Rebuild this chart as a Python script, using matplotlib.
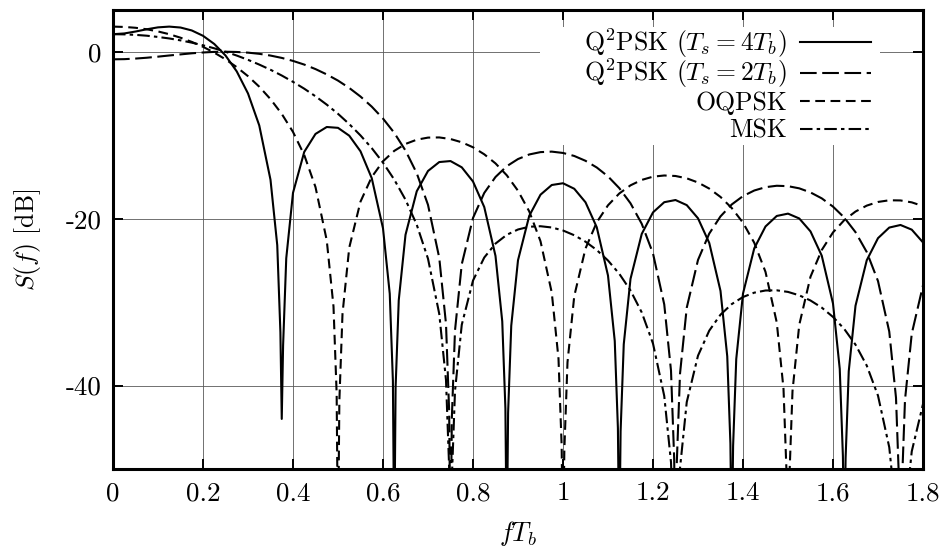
import numpy as np
import matplotlib
matplotlib.use('Agg')
import matplotlib.pyplot as plt
from matplotlib.patches import Rectangle

# power spectra in dB on a 0.025 grid of f*Tb (0 .. 1.8)
f_grid = np.linspace(0.0, 1.8, 73)

q4_db = [2.10, 2.19, 2.42, 2.69, 2.92, 3.01, 2.90, 2.55, 1.91, 0.93,
         -0.45, -2.36, -5.00, -8.83, -15.34, -44.0, -16.91, -12.00, -9.85, -9.02,
         -9.12, -10.06, -11.93, -15.15, -21.16, -60.0, -21.94, -16.72, -14.29, -13.22,
         -13.10, -13.85, -15.55, -18.61, -24.47, -60.0, -24.99, -19.66, -17.13, -15.97,
         -15.76, -16.42, -18.04, -21.03, -26.82, -60.0, -27.22, -21.83, -19.25, -18.03,
         -17.77, -18.38, -19.96, -22.91, -28.66, -60.0, -28.98, -23.56, -20.94, -19.68,
         -19.40, -19.98, -21.53, -24.44, -30.17, -60.0, -30.44, -24.99, -22.34, -21.07,
         -20.76, -21.32, -22.85]

q2_db = [-0.91, -0.89, -0.82, -0.72, -0.59, -0.45, -0.32, -0.19, -0.09, -0.02,
         0.00, -0.03, -0.11, -0.25, -0.46, -0.74, -1.10, -1.54, -2.08, -2.72,
         -3.46, -4.34, -5.37, -6.58, -8.01, -9.72, -11.84, -14.56, -18.35, -24.69,
         -60.0, -25.47, -19.92, -16.92, -15.01, -13.72, -12.86, -12.31, -12.03, -11.97,
         -12.13, -12.49, -13.07, -13.87, -14.94, -16.34, -18.16, -20.62, -24.17, -30.28,
         -60.0, -30.67, -24.95, -21.79, -19.73, -18.30, -17.30, -16.63, -16.23, -16.06,
         -16.11, -16.37, -16.86, -17.57, -18.56, -19.87, -21.62, -24.00, -27.48, -33.53,
         -60.0, -33.79, -28.00]

oqpsk_db = [3.01, 2.97, 2.87, 2.69, 2.43, 2.10, 1.68, 1.18, 0.59, -0.11,
            -0.91, -1.85, -2.93, -4.19, -5.68, -7.45, -9.61, -12.38, -16.22, -22.60,
            -60.0, -23.47, -17.96, -15.01, -13.13, -11.88, -11.05, -10.54, -10.29, -10.27,
            -10.46, -10.85, -11.45, -12.29, -13.38, -14.80, -16.66, -19.14, -22.71, -28.85,
            -60.0, -29.28, -23.58, -20.44, -18.40, -16.99, -16.01, -15.36, -14.97, -14.83,
            -14.89, -15.17, -15.67, -16.40, -17.40, -18.73, -20.49, -22.89, -26.38, -32.44,
            -60.0, -32.73, -26.96, -23.76, -21.65, -20.18, -19.15, -18.44, -18.00, -17.80,
            -17.82, -18.05, -18.50]

msk_db = [2.10, 2.08, 2.02, 1.92, 1.77, 1.59, 1.36, 1.09, 0.77, 0.41,
          0.00, -0.46, -0.97, -1.54, -2.16, -2.85, -3.61, -4.43, -5.34, -6.34,
          -7.44, -8.67, -10.03, -11.55, -13.29, -15.32, -17.73, -20.73, -24.80, -31.41,
          -60.0, -32.72, -27.42, -24.66, -22.99, -21.94, -21.30, -20.97, -20.91, -21.06,
          -21.42, -21.99, -22.76, -23.76, -25.02, -26.60, -28.61, -31.24, -34.97, -41.25,
          -60.0, -41.98, -36.42, -33.42, -31.51, -30.24, -29.39, -28.87, -28.61, -28.59,
          -28.78, -29.19, -29.81, -30.66, -31.78, -33.22, -35.10, -37.61, -41.21, -47.39,
          -60.0, -47.89, -42.23]

# extra readings close to the spectral nulls
q4_notch_f = [0.365, 0.372, 0.378, 0.385, 0.615, 0.622, 0.628, 0.635,
              0.865, 0.872, 0.878, 0.885, 1.115, 1.122, 1.128, 1.135,
              1.365, 1.372, 1.378, 1.385, 1.615, 1.622, 1.628, 1.635]
q4_notch_db = [-23.18, -33.61, -35.18, -24.75, -29.00, -39.43, -40.21, -29.78,
               -32.31, -42.74, -43.26, -32.83, -34.66, -45.09, -45.49, -35.06,
               -36.50, -46.93, -47.25, -36.82, -38.01, -48.44, -48.71, -38.28]

q2_notch_f = [0.74, 0.747, 0.753, 0.76, 1.24, 1.247, 1.253, 1.26, 1.74, 1.747, 1.753, 1.76]
q2_notch_db = [-32.62, -43.07, -43.85, -33.40, -38.21, -48.66, -49.05, -38.60,
               -41.46, -51.91, -52.17, -41.72]

oqpsk_notch_f = [0.49, 0.497, 0.503, 0.51, 0.99, 0.997, 1.003, 1.01, 1.49, 1.497, 1.503, 1.51]
oqpsk_notch_db = [-30.53, -40.98, -41.85, -31.40, -36.78, -47.23, -47.66, -37.21,
                  -40.37, -50.82, -51.11, -40.66]

msk_notch_f = [0.74, 0.747, 0.753, 0.76, 1.24, 1.247, 1.253, 1.26, 1.74, 1.76]
msk_notch_db = [-39.34, -49.79, -51.10, -40.65, -49.18, -59.6, -60.4, -49.91, -55.3, -55.8]

labels = [r'Q$^2$PSK $(T_s = 4T_b)$', r'Q$^2$PSK $(T_s = 2T_b)$', 'OQPSK', 'MSK']

x_ticks = [0, 0.2, 0.4, 0.6, 0.8, 1.0, 1.2, 1.4, 1.6, 1.8]
x_ticklabels = ['0', '0.2', '0.4', '0.6', '0.8', '1', '1.2', '1.4', '1.6', '1.8']
y_ticks = [0, -20, -40]
y_ticklabels = ['0', '-20', '-40']


def merge(fg, db, nf, ndb):
    f = np.concatenate([fg, nf])
    s = np.concatenate([db, ndb])
    order = np.argsort(f)
    return f[order], s[order]


plt.rcParams['font.family'] = 'serif'
plt.rcParams['font.serif'] = ['cmr10']
plt.rcParams['mathtext.fontset'] = 'cm'
plt.rcParams['axes.unicode_minus'] = False
plt.rcParams['lines.scale_dashes'] = False

fig = plt.figure(figsize=(9.44, 5.51), dpi=100)
ax = fig.add_axes([113/944., 82/551., 810/944., 459/551.])

curves = [
    (q4_db, q4_notch_f, q4_notch_db, None),
    (q2_db, q2_notch_f, q2_notch_db, (12, 4)),
    (oqpsk_db, oqpsk_notch_f, oqpsk_notch_db, (7, 4)),
    (msk_db, msk_notch_f, msk_notch_db, (9, 3, 2.5, 3)),
]

for db, nf, ndb, dash in curves:
    f, s = merge(f_grid, db, nf, ndb)
    if dash is None:
        ax.plot(f, s, color='k', lw=1.5)
    else:
        ax.plot(f, s, color='k', lw=1.5, dashes=dash)

ax.set_xlim(0, 1.8)
ax.set_ylim(-50, 5)
ax.set_xticks(x_ticks)
ax.set_xticklabels(x_ticklabels)
ax.set_yticks(y_ticks)
ax.set_yticklabels(y_ticklabels)

ax.grid(True, color='0.35', lw=0.6)
ax.set_axisbelow(True)
for sp in ax.spines.values():
    sp.set_linewidth(2.2)
ax.tick_params(direction='in', length=7, width=1.4, top=True, right=True, labelsize=19.5)
ax.tick_params(axis='x', pad=9)
ax.tick_params(axis='y', pad=8)

ax.set_xlabel(r'$fT_b$', fontsize=19)
ax.xaxis.set_label_coords(0.5, -0.108)
ax.set_ylabel(r'$S(f)$ [dB]', fontsize=18.5)
ax.yaxis.set_label_coords(-0.086, 0.5)

# key in the gnuplot manner: white box, right-justified text, sample to the right
ax.add_patch(Rectangle((0.527, 0.706), 0.42, 0.257, transform=ax.transAxes,
                       facecolor='white', edgecolor='none', zorder=3))
key_rows = [0.9303, 0.8638, 0.8017, 0.7407]
for (db, nf, ndb, dash), lab, yk in zip(curves, labels, key_rows):
    ax.text(0.832, yk - 0.0195, lab, transform=ax.transAxes, ha='right',
            va='baseline', fontsize=18.5, zorder=4)
    if dash is None:
        ax.plot([0.848, 0.936], [yk, yk], transform=ax.transAxes, color='k',
                lw=1.5, zorder=4, clip_on=False)
    else:
        ax.plot([0.848, 0.936], [yk, yk], transform=ax.transAxes, color='k',
                lw=1.5, dashes=dash, zorder=4, clip_on=False)

fig.savefig('out.png', dpi=100)
